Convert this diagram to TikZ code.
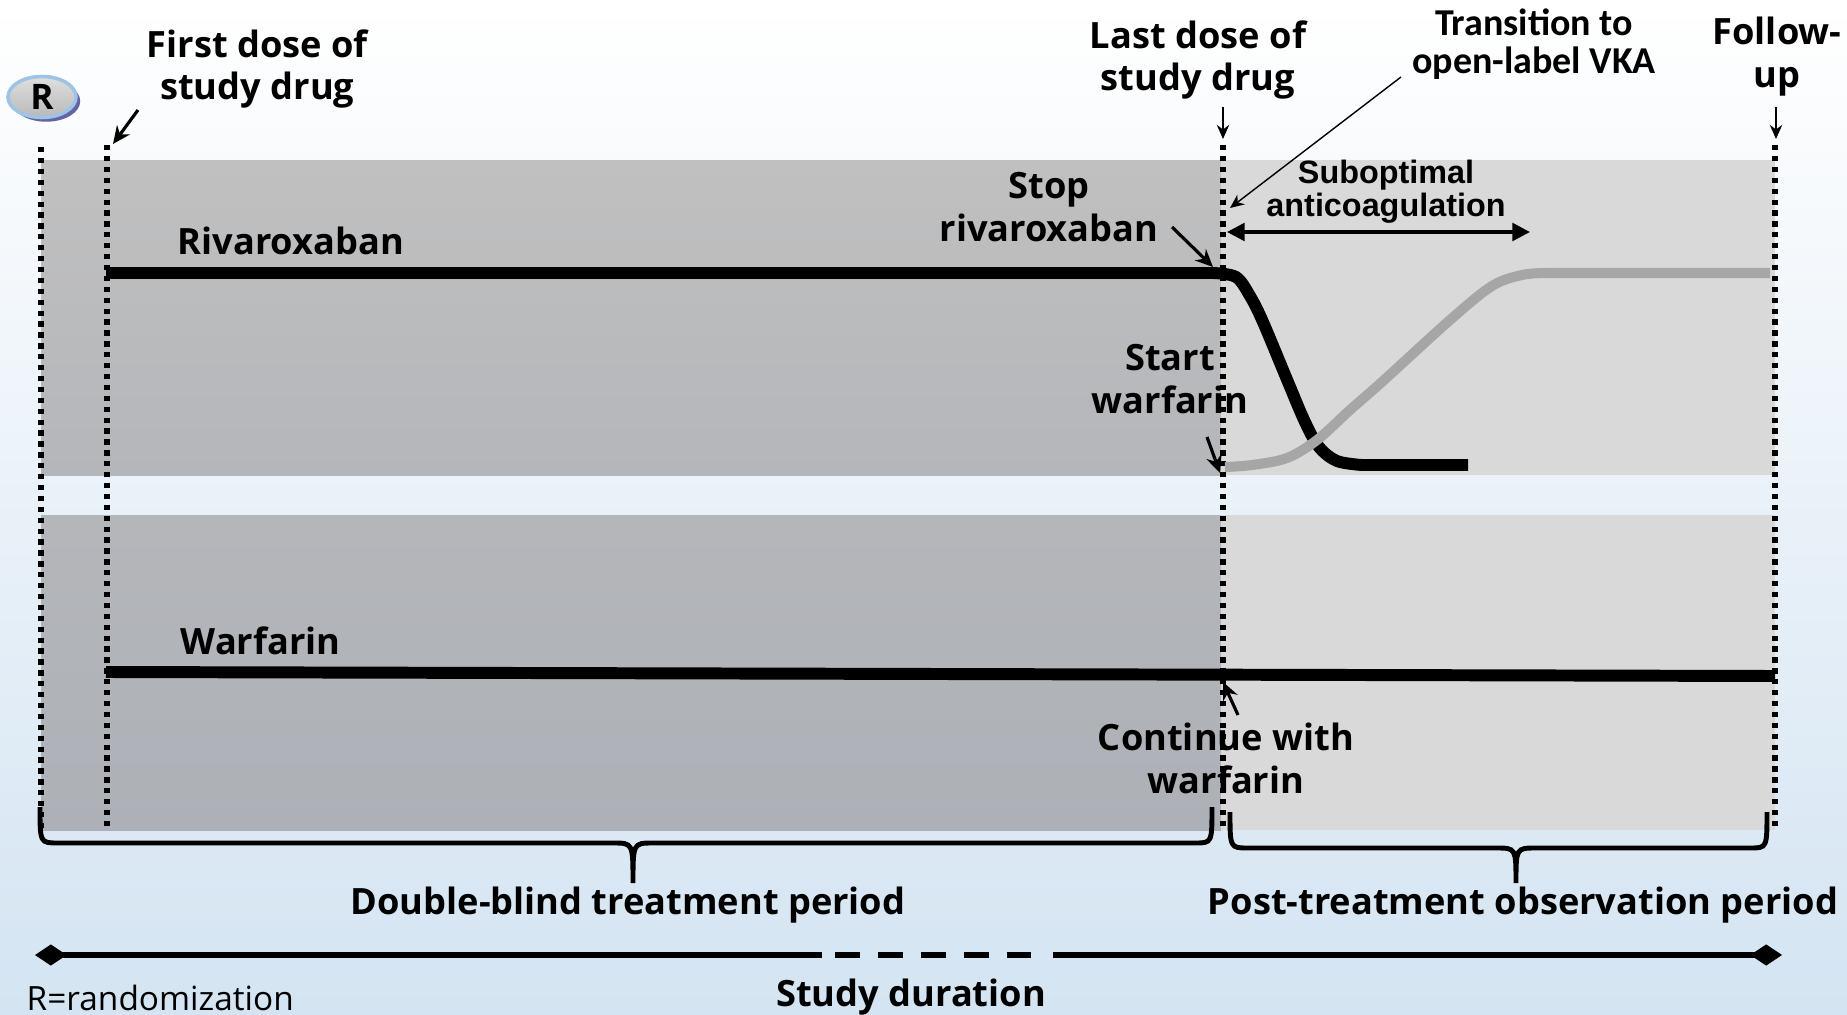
\documentclass[tikz,border=0pt]{standalone}
\usepackage{fontspec}
\setmainfont{Open Sans}
\newfontfamily\carlito{Carlito}
\newfontfamily\arialish{Liberation Sans}
\usetikzlibrary{arrows.meta,shapes.geometric,shadows}

\definecolor{skyTop}{HTML}{FFFFFF}
\definecolor{skyMid}{HTML}{E8F0F8}
\definecolor{skyLow}{HTML}{D4E4F2}
\definecolor{bandHi}{HTML}{C0C0C0}
\definecolor{bandMid}{HTML}{B4B6BA}
\definecolor{bandLo}{HTML}{ADB1B7}
\definecolor{bandLight}{HTML}{D9D9D9}
\definecolor{vkaGray}{HTML}{A6A6A6}
\definecolor{rEdge}{HTML}{9DC3E6}

\begin{document}
\begin{tikzpicture}[x=0.01cm, y=-0.01cm,
    lbl/.style={font=\bfseries\fontsize{10.3}{12.2}\selectfont, align=center, inner sep=0pt},
    marker/.style={line width=1.7pt, dash pattern=on 1.5pt off 1.6pt},
    drugline/.style={line width=3.4pt},
    pointer/.style={-{Stealth[length=5pt,width=4.5pt]}, line width=0.9pt},
    thinpointer/.style={-{Stealth[length=4pt,width=3.5pt]}, line width=0.4pt},
    periodbrace/.style={line width=1.4pt},
  ]
  \useasboundingbox (0,0) rectangle (1847,1015);

  % Background
  \shade[top color=skyTop, middle color=skyMid, bottom color=skyLow] (0,0) rectangle (1847,1015);

  % Study periods (bands)
  \shade[top color=bandHi, bottom color=bandMid] (41,160) rectangle (1221,475);
  \shade[top color=bandMid, bottom color=bandLo] (41,515) rectangle (1221,830);
  \fill[bandLight] (1221,160) rectangle (1775,475);
  \fill[bandLight] (1221,515) rectangle (1775,830);

  % Time points (dotted lines)
  \draw[marker] (41,147) -- (41,828);
  \draw[marker] (107,145) -- (107,830);
  \draw[marker] (1223,145) -- (1223,830);
  \draw[marker] (1775,145) -- (1775,828);

  % Randomization
  \node[ellipse, minimum width=0.68cm, minimum height=0.41cm, draw=rEdge, line width=1pt,
        top color=gray!25, bottom color=gray!55,
        drop shadow={shadow xshift=1.2pt, shadow yshift=-1.2pt, fill=blue!40!black, opacity=0.6},
        font=\bfseries\fontsize{10}{12}\selectfont, inner sep=0pt] (rnode) at (42,97) {R};

  % Drug curves
  \draw[drugline] (106,273) -- (1213,273)
    plot[smooth, tension=0.55] coordinates {(1213,273) (1236,277) (1250,296) (1263,322)
      (1288,382) (1305,422) (1319,447) (1337,461) (1362,465)} -- (1468,465);
  \draw[line width=2.85pt, vkaGray] plot[smooth, tension=0.55] coordinates {(1225,467) (1252,465)
      (1287,458) (1317,440) (1350,410) (1383,381) (1450,320) (1492,286) (1522,275) (1546,273)}
    -- (1770,273);
  \draw[drugline] (106,672) -- (1775,676);

  % Labels
  \node[lbl, anchor=west] (firstdose) at (146,69) {First dose of\\study drug};
  \node[lbl] (lastdose) at (1198,60) {Last dose of\\study drug};
  \node[lbl, font=\carlito\bfseries\fontsize{10.8}{10.6}\selectfont] (transition) at (1534,44)
    {Transition to\\open-label VKA};
  \node[lbl] (followup) at (1777,57) {Follow-\\up};
  \node[lbl, font=\arialish\bfseries\fontsize{9.2}{9.4}\selectfont] (subopt) at (1386,192)
    {Suboptimal\\anticoagulation};
  \node[lbl] (stopriva) at (1049,207) {Stop\\rivaroxaban};
  \node[lbl, anchor=west] (rivalabel) at (177,241) {Rivaroxaban};
  \node[lbl] (startwarf) at (1170,379) {Start\\warfarin};
  \node[lbl, anchor=west] (warflabel) at (180,641) {Warfarin};
  \node[lbl] (contwarf) at (1226,758) {Continue with\\warfarin};
  \node[lbl] (dbperiod) at (628,905) {Double-blind treatment period};
  \node[lbl] (ptperiod) at (1523,905) {Post-treatment observation period};
  \node[lbl] (duration) at (911,997) {Study duration};
  \node[lbl, font=\fontsize{9.5}{11}\selectfont, anchor=west] (rlegend) at (26,998) {R=randomization};

  % Pointer ends
  \coordinate (fdTail) at (138,110);
  \coordinate (fdTip) at (113,144);
  \coordinate (ldTail) at (1223,107);
  \coordinate (ldTip) at (1223,139);
  \coordinate (trTail) at (1401,77);
  \coordinate (trTip) at (1230,208);
  \coordinate (fuTail) at (1776,107);
  \coordinate (fuTip) at (1776,139);
  \coordinate (soLeft) at (1227,232);
  \coordinate (soRight) at (1530,232);
  \coordinate (srTail) at (1172,227);
  \coordinate (srTip) at (1213,267);
  \coordinate (swTail) at (1207,437);
  \coordinate (swTip) at (1220,473);
  \coordinate (cwTail) at (1238,715);
  \coordinate (cwTip) at (1223,682);

  % Pointers
  \draw[pointer] (fdTail) -- (fdTip);
  \draw[thinpointer, line width=0.7pt] (ldTail) -- (ldTip);
  \draw[thinpointer] (trTail) -- (trTip);
  \draw[thinpointer, line width=0.7pt] (fuTail) -- (fuTip);
  \draw[{Triangle[length=5pt,width=5pt]}-{Triangle[length=5pt,width=5pt]}, line width=1pt] (soLeft) -- (soRight);
  \draw[pointer] (srTail) -- (srTip);
  \draw[pointer] (swTail) -- (swTip);
  \draw[pointer] (cwTail) -- (cwTip);

  % Period braces
  \draw[periodbrace] (40,807) .. controls (40,843) .. (58,843) -- (613,843)
    .. controls (633,843) .. (633,883) .. controls (633,843) .. (653,843)
    -- (1195,843) .. controls (1212,843) .. (1212,807);
  \draw[periodbrace] (1230,812) .. controls (1230,848) .. (1248,848) -- (1496,848)
    .. controls (1516,848) .. (1516,883) .. controls (1516,848) .. (1536,848)
    -- (1750,848) .. controls (1767,848) .. (1767,812);

  % Study duration
  \coordinate (sdLeft) at (35,955);
  \coordinate (sdRight) at (1782,955);
  \draw[line width=1.5pt, {Kite[length=9pt,width=6pt,inset=4.5pt]}-] (sdLeft) -- (822,955);
  \draw[line width=1.5pt, dash pattern=on 0.25cm off 0.18cm] (835,955) -- (1031,955);
  \draw[line width=1.5pt, -{Kite[length=9pt,width=6pt,inset=4.5pt]}] (1053,955) -- (sdRight);
\end{tikzpicture}
\end{document}
